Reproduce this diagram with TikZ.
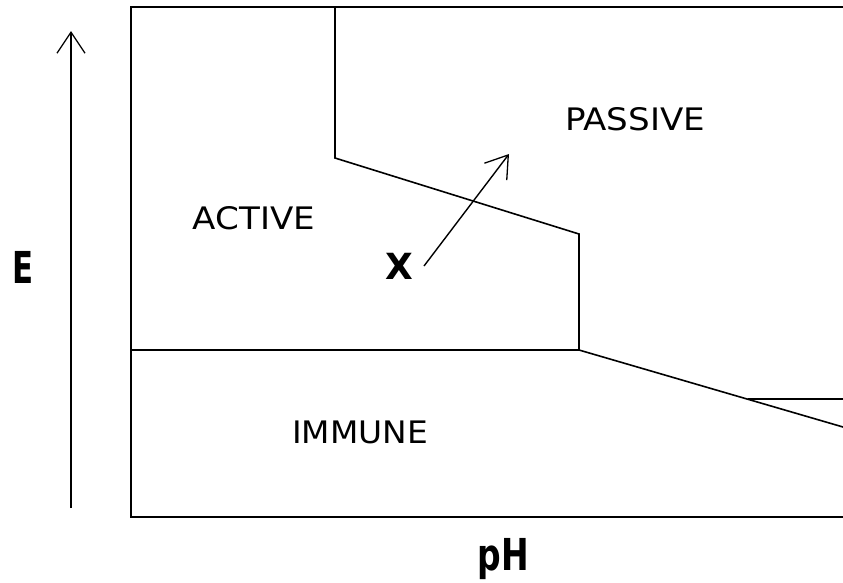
\documentclass[tikz,border=0pt]{standalone}
\usepackage{fontspec}
\setmainfont{DejaVu Sans}
\usetikzlibrary{arrows.meta}
\begin{document}
\begin{tikzpicture}[x=1pt,y=-1pt,
  lin/.style={line width=1.6pt,black},
  region/.style={inner sep=0pt,font=\fontsize{31}{31}\selectfont},
  axislabel/.style={inner sep=0pt,font=\fontsize{44}{44}\selectfont\bfseries},
  arr/.style={line width=1.4pt,black,-{Straight Barb[length=21pt,width=28pt,line width=1.3pt]}}]
\useasboundingbox (0,0) rectangle (843,582);
% frame (open on the right)
\coordinate (tr) at (843,7);
\coordinate (tl) at (131,7);
\coordinate (bl) at (131,517);
\coordinate (br) at (843,517);
\draw[lin] (tr) -- (tl) -- (bl) -- (br);
% boundaries
\coordinate (a1) at (335,7);
\coordinate (a2) at (335,158);
\coordinate (a3) at (579,234);
\coordinate (a4) at (579,350);
\coordinate (l1) at (131,350);
\coordinate (a5) at (843,427);
\coordinate (s1) at (748,399);
\coordinate (s2) at (843,399);
\draw[lin] (a1) -- (a2) -- (a3) -- (a4);
\draw[lin] (l1) -- (a4) -- (a5);
\draw[lin] (s1) -- (s2);
% labels
\node[region] (passive) at (635,119) {\scalebox{1.1}[1]{PASSIVE}};
\node[region] (active) at (254,218) {\scalebox{1.1}[1]{ACTIVE}};
\node[region] (immune) at (360,432) {\scalebox{1.06}[1]{IMMUNE}};
\node[inner sep=0pt,font=\fontsize{36}{36}\selectfont\bfseries] (x) at (399,266) {X};
\node[axislabel] (e) at (23,267) {\scalebox{0.7}[1]{E}};
\node[axislabel,anchor=base] (ph) at (503,570) {\scalebox{0.75}[1]{pH}};
% arrows
\coordinate (xs) at (424,266);
\coordinate (xe) at (509,154);
\draw[arr] (xs) -- (xe);
\coordinate (es) at (71,508);
\coordinate (ee) at (71,31);
\draw[arr] (es) -- (ee);
\end{tikzpicture}
\end{document}
